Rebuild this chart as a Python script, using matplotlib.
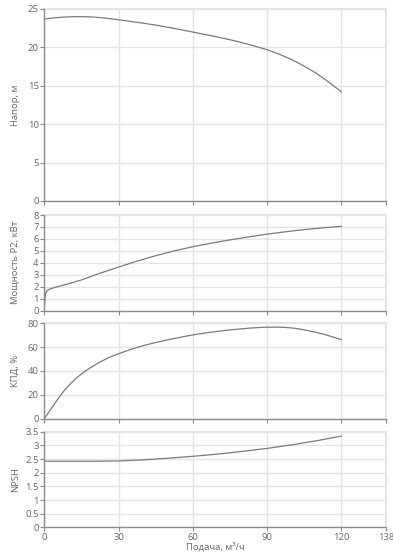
import matplotlib
matplotlib.use('Agg')
import matplotlib.pyplot as plt
from matplotlib.ticker import FuncFormatter

plt.rcParams['font.family'] = ['Open Sans', 'DejaVu Sans']

# flow, m3/h
x_ticks = [0, 30, 60, 90, 120, 138]

# head curve
q_head = [0, 4, 8, 12, 16, 20, 25, 30, 37.5, 45, 52.5, 60, 67.5, 75, 82.5, 90,
          95, 100, 105, 110, 115, 120]
head = [23.7, 23.85, 23.95, 24.0, 24.0, 23.95, 23.8, 23.6, 23.27, 22.9, 22.47, 22.0,
        21.52, 21.0, 20.4, 19.7, 19.1, 18.4, 17.55, 16.6, 15.45, 14.2]

# power curve
q_power = [0, 0.15, 0.35, 0.6, 1, 1.5, 2.2, 3, 4.5, 6, 10, 15, 22, 30, 37.5, 45,
           52.5, 60, 67.5, 75, 82.5, 90, 97.5, 105, 112.5, 120]
power = [0, 0.7, 1.2, 1.48, 1.63, 1.73, 1.81, 1.87, 1.96, 2.04, 2.27, 2.57, 3.1, 3.65,
         4.15, 4.6, 5.0, 5.35, 5.65, 5.92, 6.17, 6.4, 6.6, 6.78, 6.93, 7.05]

# efficiency curve
q_eff = [0, 2, 4, 6, 8, 10, 12.5, 15, 18, 22.5, 26, 30, 35, 40, 45, 52.5, 60, 67.5,
         75, 82.5, 88, 93, 97, 101, 105, 109, 113, 117, 120]
eff = [0, 6, 12, 18, 23.5, 28, 33.2, 37.5, 42, 47.5, 51.2, 54.5, 58.2, 61.3, 63.9,
       67.3, 70.3, 72.6, 74.5, 75.9, 76.6, 76.8, 76.6, 75.9, 74.5, 72.8, 70.8, 68.2, 66.3]

# NPSH curve
q_npsh = [0, 10, 20, 30, 40, 50, 60, 70, 80, 90, 100, 110, 120]
npsh = [2.42, 2.42, 2.42, 2.43, 2.47, 2.53, 2.6, 2.68, 2.78, 2.89, 3.02, 3.17, 3.34]

panels = [
    (q_head, head, 'Напор, м', 25, 5),
    (q_power, power, 'Мощность P2, кВт', 8, 1),
    (q_eff, eff, 'КПД, %', 80, 20),
    (q_npsh, npsh, 'NPSH', 3.5, 0.5),
]

# [left, bottom, width, height] in figure fraction
boxes = [
    [0.1127, 0.6359, 0.8695, 0.3478],
    [0.1127, 0.4371, 0.8695, 0.1734],
    [0.1127, 0.2415, 0.8695, 0.1728],
    [0.1127, 0.0447, 0.8695, 0.1732],
]

fig = plt.figure(figsize=(3.93, 5.52), dpi=100)
txt = '#666666'
grid_c = '#e4e4e8'
axis_c = '#8a8a8a'
fs = 6.8

fmt = FuncFormatter(lambda v, p: '%g' % v)

for i, (xs, ys, label, ymax, step) in enumerate(panels):
    ax = fig.add_axes(boxes[i])
    ax.plot(xs, ys, color='#7a7a7a', lw=0.9, zorder=3)
    ax.set_xlim(0, 138)
    ax.set_ylim(0, ymax)
    n = int(round(ymax / step))
    ax.set_yticks([k * step for k in range(n + 1)])
    ax.set_xticks(x_ticks)
    ax.yaxis.set_major_formatter(fmt)
    ax.grid(True, color=grid_c, lw=1.0, zorder=0)
    for s in ['top', 'right']:
        ax.spines[s].set_visible(False)
    for s in ['left', 'bottom']:
        ax.spines[s].set_color(axis_c)
        ax.spines[s].set_linewidth(1.0)
        ax.spines[s].set_zorder(4)
    # light frame lines at top and right like the reference
    ax.axhline(ymax, color=grid_c, lw=1.5, zorder=1, clip_on=False)
    ax.axvline(138, color=grid_c, lw=1.5, zorder=1, clip_on=False)
    ax.tick_params(axis='both', colors=axis_c, labelcolor=txt, labelsize=fs,
                   length=3, width=0.8, pad=1)
    ax.set_ylabel(label, color=txt, fontsize=fs)
    ax.yaxis.set_label_coords(-0.072, 0.5)
    if i < 3:
        ax.tick_params(axis='x', labelbottom=False)
    else:
        ax.set_xlabel('Подача, м³/ч', color=txt, fontsize=fs)
        ax.xaxis.set_label_coords(0.5, -0.16)

fig.savefig('out.png', dpi=100)
